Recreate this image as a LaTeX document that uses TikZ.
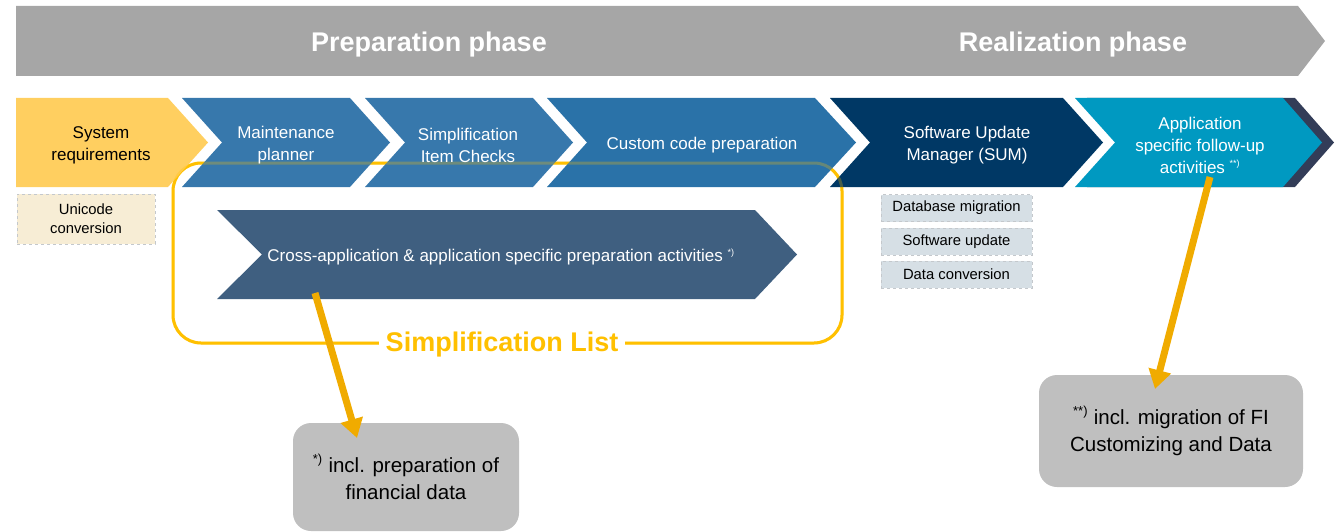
\documentclass[tikz,border=0pt]{standalone}
\usepackage{fontspec}
\setmainfont{Liberation Sans}
\usetikzlibrary{arrows.meta}
\definecolor{bannergray}{HTML}{A6A6A6}
\definecolor{sysyellow}{HTML}{FFCF60}
\definecolor{blueA}{HTML}{3778AC}
\definecolor{blueB}{HTML}{2A72A8}
\definecolor{navy}{HTML}{003865}
\definecolor{teal}{HTML}{0099C1}
\definecolor{darkstrip}{HTML}{333D58}
\definecolor{crossblue}{HTML}{3F5F80}
\definecolor{framec}{HTML}{FFC000}
\definecolor{arrowc}{HTML}{F0AB00}
\definecolor{notegray}{HTML}{BFBFBF}
\definecolor{beige}{HTML}{F7EDD5}
\definecolor{subfill}{HTML}{D6DFE5}
\definecolor{dashgray}{HTML}{C4C8CC}
\tikzset{
  chevtext/.style={text=white, align=center, font=\fontsize{17}{22}\selectfont},
  phasetext/.style={text=white, font=\bfseries\fontsize{27}{30}\selectfont},
  subbox/.style={draw=dashgray, dashed, line width=0.8pt, fill=subfill, minimum width=151pt, minimum height=27pt, inner sep=0pt, font=\fontsize{14.8}{17}\selectfont},
  notebox/.style={fill=notegray, rounded corners=18pt, align=center, inner sep=0pt, font=\fontsize{20.5}{27}\selectfont},
  bigarrow/.style={draw=arrowc, line width=7pt, -{Triangle[width=22pt,length=19pt]}, arrowc},
  sframe/.style={line width=3pt, rounded corners=28pt}
}
\begin{document}
\begin{tikzpicture}[x=1pt,y=-1pt]
\useasboundingbox (0,0) rectangle (1341,532);
% banner
\fill[bannergray] (16,6) -- (1298,6) -- (1325,41) -- (1298,76) -- (16,76) -- cycle;
\node[phasetext] (prep) at (429,44.5) {Preparation phase};
\node[phasetext] (real) at (1073,44.5) {Realization phase};
% frame (under chevrons)
\draw[sframe, framec] (173,163) rectangle (842,343);
% chevrons
\fill[sysyellow] (16,98) -- (168,98) -- (208,142.5) -- (168,187) -- (16,187) -- cycle;
\fill[blueA] (182,98) -- (350,98) -- (390,142.5) -- (350,187) -- (182,187) -- (222,142.5) -- cycle;
\fill[blueA] (365,98) -- (533,98) -- (573,142.5) -- (533,187) -- (365,187) -- (405,142.5) -- cycle;
\fill[blueB] (547,98) -- (815,98) -- (856,142.5) -- (815,187) -- (547,187) -- (587,142.5) -- cycle;
\fill[navy] (830,98) -- (1063,98) -- (1103,142.5) -- (1063,187) -- (830,187) -- (870,142.5) -- cycle;
\fill[darkstrip] (1087,98) -- (1295,98) -- (1334,142.5) -- (1295,187) -- (1087,187) -- (1127,142.5) -- cycle;
\fill[teal] (1075,98) -- (1283,98) -- (1322,142.5) -- (1283,187) -- (1075,187) -- (1115,142.5) -- cycle;
% frame seen through chevrons
\draw[sframe, framec, draw opacity=0.28] (173,163) rectangle (842,343);
\node[fill=white, inner xsep=7pt, inner ysep=2pt, text=framec, font=\bfseries\fontsize{27}{30}\selectfont] (slist) at (502,345) {Simplification List};
% chevron texts
\node[align=center, font=\fontsize{17}{22}\selectfont] (sysreq) at (101,145) {System\\requirements};
\node[chevtext] (maint) at (286,145) {Maintenance\\planner};
\node[chevtext] (simp) at (468,145) {Simplification\\Item Checks};
\node[chevtext] (custom) at (702,145) {Custom code preparation};
\node[chevtext] (sum) at (967,145) {Software Update\\Manager (SUM)};
\node[chevtext] (app) at (1200,145) {Application\\specific follow-up\\activities \textsuperscript{\fontsize{9}{9}\selectfont **)}};
% sub boxes
\node[subbox, fill=beige, minimum width=138pt, minimum height=50pt, align=center, font=\fontsize{14.8}{19}\selectfont] (unicode) at (86,219) {Unicode\\conversion};
\node[subbox] (dbmig) at (956.5,208) {Database migration};
\node[subbox] (swupd) at (956.5,241.5) {Software update};
\node[subbox] (dconv) at (956.5,274.5) {Data conversion};
% cross-application chevron
\fill[crossblue] (217,210) -- (755,210) -- (797,254.5) -- (755,299) -- (217,299) -- (262,254.5) -- cycle;
\node[text=white, font=\fontsize{17}{20}\selectfont] (cross) at (501,257) {Cross-application \& application specific preparation activities \textsuperscript{\fontsize{9}{9}\selectfont *)}};
% notes
\node[notebox, minimum width=226pt, minimum height=108pt] (note1) at (406,477) {\raisebox{2pt}{\textsuperscript{\fontsize{13}{13}\selectfont *)}} incl. preparation of\\financial data};
\node[notebox, minimum width=264pt, minimum height=112pt] (note2) at (1171,431) {\raisebox{2pt}{\textsuperscript{\fontsize{13}{13}\selectfont **)}} incl. migration of FI\\Customizing and Data};
% arrows
\coordinate (a1s) at (315,293);
\coordinate (a1e) at (357,438);
\coordinate (a2s) at (1210,177);
\coordinate (a2e) at (1155,389);
\draw[bigarrow] (a1s) -- (a1e);
\draw[bigarrow] (a2s) -- (a2e);
\end{tikzpicture}
\end{document}
